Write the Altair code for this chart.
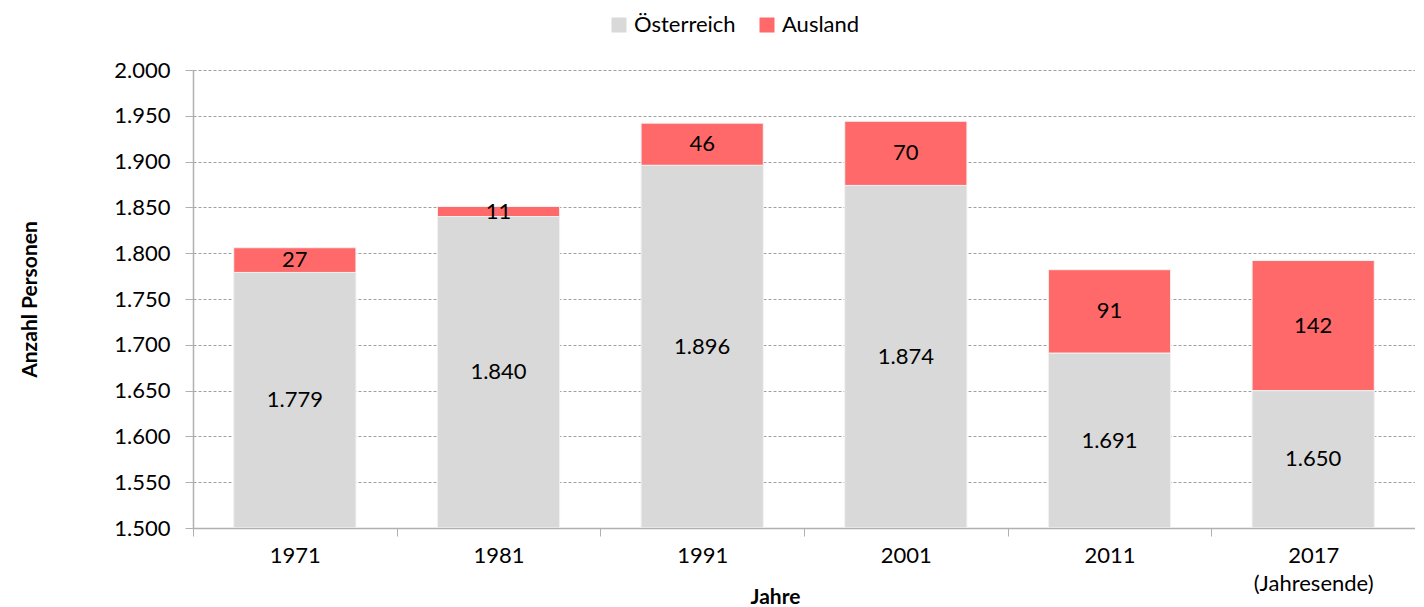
import altair as alt
import pandas as pd

years = ["1971", "1981", "1991", "2001", "2011", "2017|(Jahresende)"]
oesterreich = [1779, 1840, 1896, 1874, 1691, 1650]
ausland = [27, 11, 46, 70, 91, 142]
series = ["Österreich", "Ausland"]
colors = ["#d9d9d9", "#ff6969"]
base_value = 1500

rows = []
for y, o, a in zip(years, oesterreich, ausland):
    rows.append({"Jahr": y, "Herkunft": "Österreich", "lo": base_value, "hi": o,
                 "label": f"{o:,}".replace(",", "."), "order": 0})
    rows.append({"Jahr": y, "Herkunft": "Ausland", "lo": o, "hi": o + a,
                 "label": f"{a:,}".replace(",", "."), "order": 1})
df = pd.DataFrame(rows)
df["mid"] = (df["lo"] + df["hi"]) / 2

FONT = "Lato"
FS = 22
W, H = 1222, 458

x_enc = alt.X("Jahr:N", sort=years, title="Jahre",
              scale=alt.Scale(paddingInner=0, paddingOuter=0),
              axis=alt.Axis(labelAngle=0, labelExpr="split(datum.label, '|')",
                            labelLineHeight=28, labelFontSize=FS, labelFont=FONT,
                            labelColor="#000000", labelPadding=9,
                            tickBand="extent", ticks=True, tickSize=8,
                            tickColor="#b0b0b0", domainColor="#b0b0b0", domainWidth=1.5,
                            titleFont=FONT, titleFontSize=21, titleFontWeight="bold",
                            titleColor="#000000", titleX=582, titleY=69,
                            titleBaseline="middle"))

y_scale = alt.Scale(domain=[1500, 2000], nice=False, zero=False)

bars = alt.Chart(df).mark_bar(clip=True, stroke="#f2f2f2", strokeWidth=1,
                              width=alt.RelativeBandSize(0.6)).encode(
    x=x_enc,
    y=alt.Y("lo:Q", scale=y_scale, title="Anzahl Personen",
            axis=alt.Axis(values=list(range(1500, 2001, 50)),
                          labelExpr="replace(format(datum.value, ','), ',', '.')",
                          labelFont=FONT, labelFontSize=FS, labelColor="#000000",
                          labelPadding=15, tickSize=8, tickColor="#b0b0b0",
                          domainColor="#b0b0b0", domainWidth=1.5,
                          grid=True, gridColor="#a0a0a0", gridDash=[3, 2], gridWidth=1,
                          titleFont=FONT, titleFontSize=21, titleFontWeight="bold",
                          titleColor="#000000", titleAngle=-90, titleX=-163,
                          titleY=H / 2, titleAlign="center", titleBaseline="middle")),
    y2="hi:Q",
    color=alt.Color("Herkunft:N", sort=series,
                    scale=alt.Scale(domain=series, range=colors),
                    legend=alt.Legend(title=None, orient="none", direction="horizontal",
                                      legendX=415, legendY=-56,
                                      symbolType="square", symbolSize=225,
                                      symbolStrokeWidth=0,
                                      labelFont=FONT, labelFontSize=FS,
                                      labelColor="#000000", columnPadding=20)),
    order="order:Q",
)

texts = alt.Chart(df).mark_text(font=FONT, fontSize=FS, color="#000000",
                                baseline="middle").encode(
    x=alt.X("Jahr:N", sort=years),
    y=alt.Y("mid:Q", scale=y_scale),
    text="label:N",
)

chart = (bars + texts).properties(
    width=W, height=H,
    autosize=alt.AutoSizeParams(type="none"),
    padding={"left": 185, "top": 62, "right": 0, "bottom": 78},
).configure_view(stroke=None)

chart.save("out.html", embed_options={"renderer": "svg", "actions": False})
